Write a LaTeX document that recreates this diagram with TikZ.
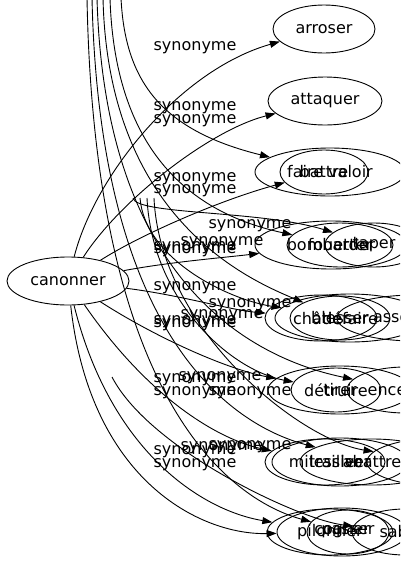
\documentclass[tikz,border=0pt]{standalone}
\usepackage{fontspec}
\setmainfont{DejaVu Sans}
\usetikzlibrary{shapes.geometric,arrows.meta}
\begin{document}
\begin{tikzpicture}[x=1pt,y=-1pt,
  nd/.style={draw,ellipse,inner sep=0pt,font=\fontsize{16}{18}\selectfont,line width=0.9pt},
  lb/.style={inner sep=0pt,font=\fontsize{16}{18}\selectfont},
  ed/.style={draw,line width=0.9pt,-{Triangle[length=10pt,width=7pt]}}]
\clip (0,0) rectangle (400,563);
\fill[white] (0,0) rectangle (400,563);
% central node
\node[nd,minimum width=122pt,minimum height=48pt] (c) at (68,281) {canonner};
% right nodes
\node[nd,minimum width=102pt,minimum height=48pt] (arroser) at (324,29) {arroser};
\node[nd,minimum width=114pt,minimum height=48pt] (attaquer) at (325,101) {attaquer};
% group 3
\node[nd,minimum width=150pt,minimum height=48pt] (fv) at (330,172) {faire valoir};
\node[nd,minimum width=88pt,minimum height=44pt] (ba) at (324,172) {battre};
% group 4
\node[nd,minimum width=152pt,minimum height=48pt] (bo) at (331,245) {bombarder};
\node[nd,minimum width=106pt,minimum height=44pt] (fo) at (340,245) {fouetter};
\node[nd,minimum width=98pt,minimum height=44pt] (ta) at (374,245) {taper};
% group 5
\node[nd,minimum width=112pt,minimum height=46pt] (ch) at (321,318) {châtier};
\node[nd,minimum width=100pt,minimum height=44pt] (bl) at (340,318) {blesser};
\node[nd,minimum width=150pt,minimum height=48pt] (de) at (350,318) {défaire};
\node[nd,minimum width=156pt,minimum height=46pt] (as) at (415,318) {assommer};
% group 6
\node[nd,minimum width=88pt,minimum height=44pt] (dt) at (336,390) {détruire};
\node[nd,minimum width=144pt,minimum height=48pt] (ti) at (340,390) {tirer};
\node[nd,minimum width=116pt,minimum height=46pt] (en) at (405,390) {encercler};
% group 7
\node[nd,minimum width=120pt,minimum height=46pt] (mi) at (325,462) {mitrailler};
\node[nd,minimum width=136pt,minimum height=48pt] (le) at (340,462) {lessiver};
\node[nd,minimum width=144pt,minimum height=46pt] (ab) at (372,462) {abattre};
\node[nd,minimum width=146pt,minimum height=48pt] (sa) at (440,462) {saccager};
% group 8
\node[nd,minimum width=126pt,minimum height=46pt] (pi) at (330,532) {pilonner};
\node[nd,minimum width=130pt,minimum height=48pt] (co) at (342,532) {cogner};
\node[nd,minimum width=82pt,minimum height=44pt] (pa) at (348,532) {passer};
\node[nd,minimum width=106pt,minimum height=46pt] (sb) at (405,532) {sabrer};
% free ends
\coordinate (t1) at (87,-2);
\coordinate (t2) at (92,-2);
\coordinate (t3) at (97,-2);
\coordinate (t4) at (103,-2);
\coordinate (t5) at (110,-2);
\coordinate (t6) at (121,-2);
\coordinate (m1) at (133,198);
\coordinate (m2) at (140,198);
\coordinate (m3) at (147,198);
\coordinate (m4) at (154,198);
\coordinate (m5) at (112,377);
% edges from canonner
\path[ed] (c) .. controls (95,175) and (180,70) .. (arroser);
\path[ed] (c) .. controls (120,200) and (210,130) .. (attaquer);
\path[ed] (c) .. controls (140,235) and (220,200) .. (ba);
\path[ed] (c) .. controls (170,262) and (220,258) .. (bo);
\path[ed] (c) .. controls (180,295) and (230,310) .. (ch);
\path[ed] (c) .. controls (160,340) and (230,370) .. (ti);
\path[ed] (c) .. controls (150,400) and (220,440) .. (mi);
\path[ed] (c) .. controls (110,450) and (200,510) .. (pi);
\path[ed] (c) .. controls (90,480) and (200,535) .. (co);
% edges entering from above
\path[ed] (t6) .. controls (125,80) and (160,130) .. (fv);
\path[ed] (t5) .. controls (115,160) and (200,215) .. (fo);
\path[ed] (t4) .. controls (108,220) and (250,280) .. (bl);
\path[ed] (t3) .. controls (105,290) and (260,360) .. (en);
\path[ed] (t2) .. controls (100,360) and (250,430) .. (ab);
\path[ed] (t1) .. controls (95,430) and (250,505) .. (pa);
\path[ed] (m1) .. controls (136,215) and (260,210) .. (ta);
\path[ed] (m2) .. controls (145,260) and (230,300) .. (de);
\path[ed] (m3) .. controls (152,300) and (230,370) .. (dt);
\path[ed] (m4) .. controls (160,330) and (300,440) .. (sa);
\path[ed] (m5) .. controls (150,450) and (300,520) .. (sb);
% labels
\node[lb] (l1) at (195,48) {synonyme};
\node[lb] (l2) at (195,108) {synonyme};
\node[lb] (l3) at (195,121) {synonyme};
\node[lb] (l4) at (195,179) {synonyme};
\node[lb] (l5) at (195,191) {synonyme};
\node[lb] (l6) at (250,226) {synonyme};
\node[lb] (l7) at (222,243) {synonyme};
\node[lb] (l8) at (195,248) {synonyme};
\node[lb] (l9) at (195,251) {synonyme};
\node[lb] (l10) at (195,288) {synonyme};
\node[lb] (l11) at (250,305) {synonyme};
\node[lb] (l12) at (222,316) {synonyme};
\node[lb] (l13) at (195,322) {synonyme};
\node[lb] (l14) at (195,325) {synonyme};
\node[lb] (l15) at (195,380) {synonyme};
\node[lb] (l16) at (220,378) {synonyme};
\node[lb] (l17) at (195,393) {synonyme};
\node[lb] (l18) at (250,393) {synonyme};
\node[lb] (l19) at (195,452) {synonyme};
\node[lb] (l20) at (222,448) {synonyme};
\node[lb] (l21) at (250,447) {synonyme};
\node[lb] (l22) at (195,465) {synonyme};
\end{tikzpicture}
\end{document}
